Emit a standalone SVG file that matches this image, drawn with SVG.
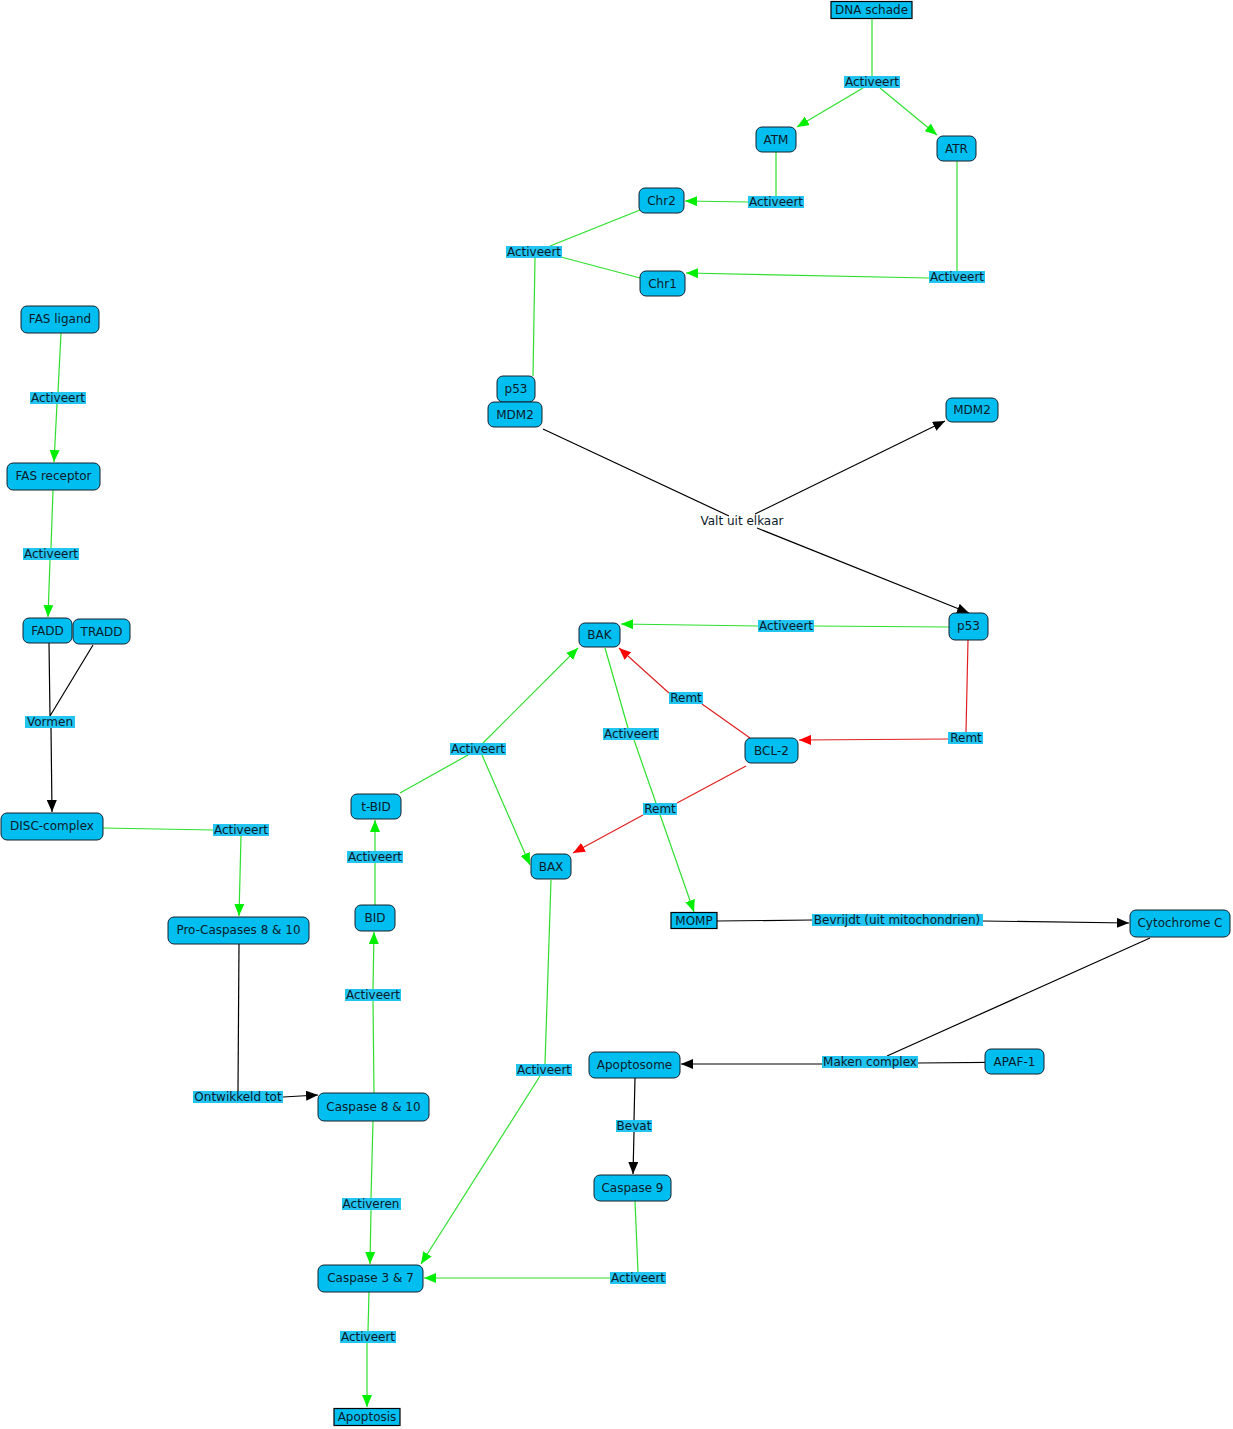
<svg xmlns="http://www.w3.org/2000/svg" width="1233" height="1429" viewBox="0 0 1233 1429">
<defs>
<style>
.n{fill:#00bff0;stroke:#14202c;stroke-width:1}
.sq{fill:#00bff0;stroke:#000;stroke-width:1.2}
.t{font-family:"DejaVu Sans",Verdana,sans-serif;font-size:12px;fill:#0c1a2a;text-anchor:middle}
.lb{fill:#22c4f2}
.g{stroke:#2ee02e;stroke-width:1.2;fill:none}
.r{stroke:#e02020;stroke-width:1.2;fill:none}
.k{stroke:#000;stroke-width:1.2;fill:none}
</style>
<marker id="ag" viewBox="0 0 12 10" refX="12" refY="5" markerWidth="12" markerHeight="10" markerUnits="userSpaceOnUse" orient="auto"><path d="M0,0 L12,5 L0,10 z" fill="#00ee00"/></marker>
<marker id="ar" viewBox="0 0 12 10" refX="12" refY="5" markerWidth="12" markerHeight="10" markerUnits="userSpaceOnUse" orient="auto"><path d="M0,0 L12,5 L0,10 z" fill="#ff0000"/></marker>
<marker id="ak" viewBox="0 0 12 10" refX="12" refY="5" markerWidth="12" markerHeight="10" markerUnits="userSpaceOnUse" orient="auto"><path d="M0,0 L12,5 L0,10 z" fill="#000"/></marker>
</defs>
<rect width="1233" height="1429" fill="#fff"/>
<g id="connectors">
<path class="g" d="M872,19 L872,76"/>
<path class="g" d="M863,88 L797,127" marker-end="url(#ag)"/>
<path class="g" d="M880,88 L937,135" marker-end="url(#ag)"/>
<path class="g" d="M776,152 L776,196"/>
<path class="g" d="M748,202 L685,201" marker-end="url(#ag)"/>
<path class="g" d="M640,210 L550,246"/>
<path class="g" d="M561,257 L640,278"/>
<path class="g" d="M535,258 L533,376"/>
<path class="g" d="M957,161 L957,271"/>
<path class="g" d="M929,278 L686,273" marker-end="url(#ag)"/>
<path class="g" d="M61,333 L58,392"/>
<path class="g" d="M57,404 L54,462" marker-end="url(#ag)"/>
<path class="g" d="M53,490 L51,548"/>
<path class="g" d="M50,560 L48,617" marker-end="url(#ag)"/>
<path class="g" d="M103,828 L213,830"/>
<path class="g" d="M241,836 L239,916" marker-end="url(#ag)"/>
<path class="g" d="M374,1093 L373,1001"/>
<path class="g" d="M373,989 L374,932" marker-end="url(#ag)"/>
<path class="g" d="M375,905 L375,863"/>
<path class="g" d="M375,851 L375,820" marker-end="url(#ag)"/>
<path class="g" d="M400,793 L468,755"/>
<path class="g" d="M483,743 L578,648" marker-end="url(#ag)"/>
<path class="g" d="M482,755 L530,865" marker-end="url(#ag)"/>
<path class="g" d="M949,627 L814,626"/>
<path class="g" d="M758,626 L621,624" marker-end="url(#ag)"/>
<path class="g" d="M605,648 L628,728"/>
<path class="g" d="M634,740 L694,912" marker-end="url(#ag)"/>
<path class="g" d="M551,880 L545,1064"/>
<path class="g" d="M540,1076 L421,1264" marker-end="url(#ag)"/>
<path class="g" d="M373,1121 L371,1198"/>
<path class="g" d="M371,1210 L370,1264" marker-end="url(#ag)"/>
<path class="g" d="M635,1201 L638,1272"/>
<path class="g" d="M614,1278 L424,1278" marker-end="url(#ag)"/>
<path class="g" d="M369,1292 L368,1331"/>
<path class="g" d="M367,1343 L367,1407" marker-end="url(#ag)"/>
<path class="r" d="M968,640 L966,732"/>
<path class="r" d="M948,739 L799,740" marker-end="url(#ar)"/>
<path class="r" d="M750,738 L702,704"/>
<path class="r" d="M669,693 L619,648" marker-end="url(#ar)"/>
<path class="r" d="M746,766 L677,803"/>
<path class="r" d="M643,815 L573,853" marker-end="url(#ar)"/>
<path class="k" d="M49,643 L50,716 M93,645 L50,716"/>
<path class="k" d="M51,728 L52,812" marker-end="url(#ak)"/>
<path class="k" d="M239,944 L238,1091"/>
<path class="k" d="M283,1097 L318,1095" marker-end="url(#ak)"/>
<path class="k" d="M543,429 L729,516"/>
<path class="k" d="M755,514 L945,421" marker-end="url(#ak)"/>
<path class="k" d="M757,528 L969,613" marker-end="url(#ak)"/>
<path class="k" d="M717,921 L812,920"/>
<path class="k" d="M983,921 L1129,923" marker-end="url(#ak)"/>
<path class="k" d="M1150,938 L887,1056"/>
<path class="k" d="M1044,1062 L918,1063"/>
<path class="k" d="M822,1064 L681,1064" marker-end="url(#ak)"/>
<path class="k" d="M635,1078 L634,1120"/>
<path class="k" d="M634,1132 L633,1174" marker-end="url(#ak)"/>
</g>
<g id="labels">
<rect class="lb" x="844" y="76" width="56" height="12"/><text class="t" x="872" y="86">Activeert</text>
<rect class="lb" x="748" y="196" width="56" height="12"/><text class="t" x="776" y="206">Activeert</text>
<rect class="lb" x="506" y="246" width="56" height="12"/><text class="t" x="534" y="256">Activeert</text>
<rect class="lb" x="929" y="271" width="56" height="12"/><text class="t" x="957" y="281">Activeert</text>
<rect class="lb" x="30" y="392" width="56" height="12"/><text class="t" x="58" y="402">Activeert</text>
<rect class="lb" x="23" y="548" width="56" height="12"/><text class="t" x="51" y="558">Activeert</text>
<rect class="lb" x="25" y="716" width="50" height="12"/><text class="t" x="50" y="726">Vormen</text>
<rect class="lb" x="213" y="824" width="56" height="12"/><text class="t" x="241" y="834">Activeert</text>
<rect class="lb" x="193" y="1091" width="90" height="12"/><text class="t" x="238" y="1101">Ontwikkeld tot</text>
<rect class="lb" x="345" y="989" width="56" height="12"/><text class="t" x="373" y="999">Activeert</text>
<rect class="lb" x="347" y="851" width="56" height="12"/><text class="t" x="375" y="861">Activeert</text>
<rect class="lb" x="450" y="743" width="56" height="12"/><text class="t" x="478" y="753">Activeert</text>
<rect class="lb" x="758" y="620" width="56" height="12"/><text class="t" x="786" y="630">Activeert</text>
<rect class="lb" x="603" y="728" width="56" height="12"/><text class="t" x="631" y="738">Activeert</text>
<rect class="lb" x="948" y="732" width="35" height="12"/><text class="t" x="966" y="742">Remt</text>
<rect class="lb" x="669" y="692" width="34" height="12"/><text class="t" x="686" y="702">Remt</text>
<rect class="lb" x="643" y="803" width="34" height="12"/><text class="t" x="660" y="813">Remt</text>
<rect class="lb" x="812" y="914" width="171" height="12"/><text class="t" x="897" y="924">Bevrijdt (uit mitochondrien)</text>
<rect class="lb" x="822" y="1056" width="96" height="12"/><text class="t" x="870" y="1066">Maken complex</text>
<rect class="lb" x="616" y="1120" width="36" height="12"/><text class="t" x="634" y="1130">Bevat</text>
<rect class="lb" x="516" y="1064" width="56" height="12"/><text class="t" x="544" y="1074">Activeert</text>
<rect class="lb" x="342" y="1198" width="59" height="12"/><text class="t" x="371" y="1208">Activeren</text>
<rect class="lb" x="610" y="1272" width="56" height="12"/><text class="t" x="638" y="1282">Activeert</text>
<rect class="lb" x="340" y="1331" width="56" height="12"/><text class="t" x="368" y="1341">Activeert</text>
<text class="t" x="742" y="525">Valt uit elkaar</text>
</g>
<g id="n-dna"><rect class="sq" x="831" y="1.5" width="81" height="17"/><text class="t" x="871.5" y="14">DNA schade</text></g>
<g id="n-atm"><rect class="n" x="756" y="127" width="40" height="25" rx="6"/><text class="t" x="776" y="144">ATM</text></g>
<g id="n-atr"><rect class="n" x="937" y="136" width="39" height="25" rx="6"/><text class="t" x="956.5" y="153">ATR</text></g>
<g id="n-chr2"><rect class="n" x="639" y="188" width="45" height="25" rx="6"/><text class="t" x="661.5" y="205">Chr2</text></g>
<g id="n-chr1"><rect class="n" x="640" y="271" width="45" height="25" rx="6"/><text class="t" x="662.5" y="288">Chr1</text></g>
<g id="n-p53a"><rect class="n" x="497" y="376" width="38" height="26" rx="6"/><text class="t" x="516" y="393">p53</text></g>
<g id="n-mdm2a"><rect class="n" x="488" y="402" width="54" height="25" rx="6"/><text class="t" x="515" y="419">MDM2</text></g>
<g id="n-mdm2b"><rect class="n" x="946" y="398" width="52" height="24" rx="6"/><text class="t" x="972" y="414">MDM2</text></g>
<g id="n-fasl"><rect class="n" x="21" y="306" width="78" height="27" rx="6"/><text class="t" x="60" y="323">FAS ligand</text></g>
<g id="n-fasr"><rect class="n" x="7" y="463" width="93" height="27" rx="6"/><text class="t" x="53.5" y="480">FAS receptor</text></g>
<g id="n-fadd"><rect class="n" x="23" y="618" width="49" height="25" rx="6"/><text class="t" x="47.5" y="635">FADD</text></g>
<g id="n-tradd"><rect class="n" x="73" y="619" width="57" height="25" rx="6"/><text class="t" x="101.5" y="636">TRADD</text></g>
<g id="n-disc"><rect class="n" x="1" y="813" width="102" height="27" rx="6"/><text class="t" x="52" y="830">DISC-complex</text></g>
<g id="n-procasp"><rect class="n" x="168" y="917" width="141" height="27" rx="6"/><text class="t" x="238.5" y="934">Pro-Caspases 8 &amp; 10</text></g>
<g id="n-casp810"><rect class="n" x="318" y="1093" width="111" height="28" rx="6"/><text class="t" x="373.5" y="1111">Caspase 8 &amp; 10</text></g>
<g id="n-bid"><rect class="n" x="355" y="905" width="40" height="26" rx="6"/><text class="t" x="375" y="922">BID</text></g>
<g id="n-tbid"><rect class="n" x="351" y="794" width="50" height="25" rx="6"/><text class="t" x="376" y="811">t-BID</text></g>
<g id="n-bak"><rect class="n" x="579" y="623" width="41" height="24" rx="6"/><text class="t" x="599.5" y="639">BAK</text></g>
<g id="n-p53b"><rect class="n" x="949" y="613" width="39" height="27" rx="6"/><text class="t" x="968.5" y="630">p53</text></g>
<g id="n-bcl2"><rect class="n" x="745" y="738" width="53" height="25" rx="6"/><text class="t" x="771.5" y="755">BCL-2</text></g>
<g id="n-bax"><rect class="n" x="531" y="854" width="40" height="25" rx="6"/><text class="t" x="551" y="871">BAX</text></g>
<g id="n-momp"><rect class="sq" x="671" y="912.5" width="46" height="16"/><text class="t" x="694" y="925">MOMP</text></g>
<g id="n-cytc"><rect class="n" x="1130" y="910" width="100" height="27" rx="6"/><text class="t" x="1180" y="927">Cytochrome C</text></g>
<g id="n-apaf"><rect class="n" x="985" y="1049" width="59" height="25" rx="6"/><text class="t" x="1014.5" y="1066">APAF-1</text></g>
<g id="n-apoptosome"><rect class="n" x="589" y="1052" width="91" height="26" rx="6"/><text class="t" x="634.5" y="1069">Apoptosome</text></g>
<g id="n-casp9"><rect class="n" x="594" y="1175" width="77" height="26" rx="6"/><text class="t" x="632.5" y="1192">Caspase 9</text></g>
<g id="n-casp37"><rect class="n" x="318" y="1265" width="105" height="27" rx="6"/><text class="t" x="370.5" y="1282">Caspase 3 &amp; 7</text></g>
<g id="n-apoptosis"><rect class="sq" x="334" y="1408.5" width="66" height="17"/><text class="t" x="367" y="1421">Apoptosis</text></g>
</svg>
